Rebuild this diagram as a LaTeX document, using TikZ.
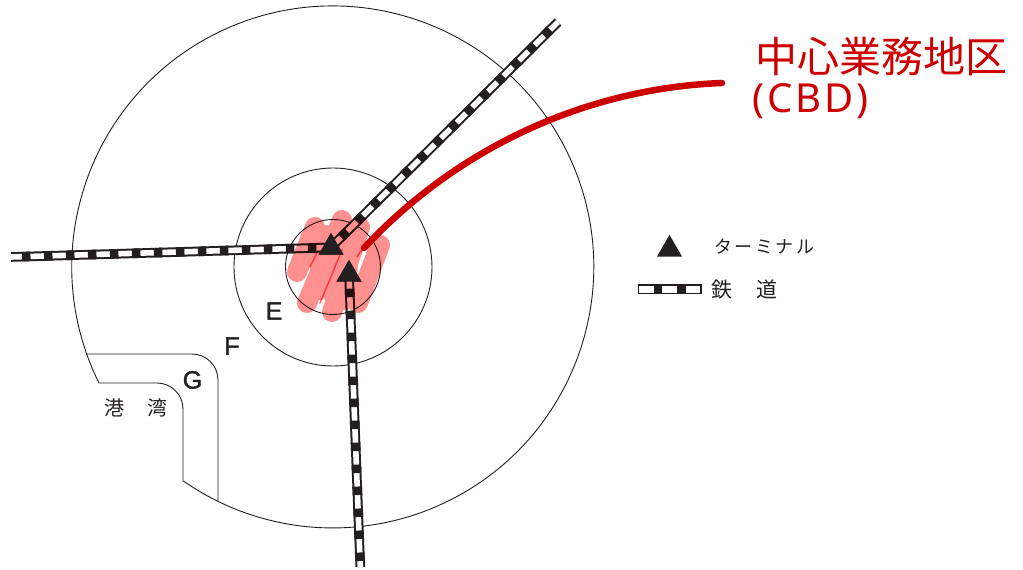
\documentclass[tikz,border=0pt]{standalone}
\usepackage{fontspec}
\setmainfont{Liberation Sans}
\newfontfamily\cjkfont{Noto Sans CJK JP}
\newfontfamily\cbdfont[LetterSpace=7.5]{Noto Sans}
\newfontfamily\katafont[LetterSpace=14]{Noto Sans CJK JP}
\usepackage{tikz}
\usetikzlibrary{positioning,shapes.geometric}
\usepackage{xcolor}
\definecolor{inkdark}{HTML}{231F20}
\definecolor{cbdred}{HTML}{CC0000}
\definecolor{cbdpink}{HTML}{FF9090}
\definecolor{cbdstreak}{HTML}{FF6868}
\tikzset{
	zoneline/.style={inkdark, line width=0.9pt},
	railline/.style={inkdark, line width=2pt, double=white, double distance=5.6pt},
	raildash/.style={inkdark, line width=9.6pt, dash pattern=on 8.5pt off 13.5pt},
	terminal/.style={regular polygon, regular polygon sides=3, fill=inkdark, inner sep=0pt, minimum size=29pt},
	zonelabel/.style={inkdark, font=\addfontfeature{FakeBold=1.5}\fontsize{25}{25}\selectfont},
	maplabel/.style={inkdark, font=\cjkfont\fontsize{20}{20}\selectfont, anchor=west, inner sep=0pt}
}
\begin{document}
\begin{tikzpicture}[x=1pt, y=1pt]
	\useasboundingbox (0,0) rectangle (1023,570);
	\coordinate (city) at (333,303);
	\coordinate (railwest) at (11,313);
	\coordinate (railnorth) at (558,548);
	\coordinate (railsouth) at (360.3,3);
	\coordinate (cbdstart) at (364,322);
	\coordinate (cbdend) at (722,487);
	% zones
	\draw[zoneline] (city) circle (47.5pt);
	\draw[zoneline] (city) circle (99pt);
	\draw[zoneline] (99,187) arc (206.4:-124.9:261pt);
	% harbour
	\draw[zoneline] (99,187) -- (157,187) arc (90:0:26pt) -- (183,88);
	\draw[zoneline] (87,216) -- (192,216) arc (90:0:26pt) -- (218,68);
	% terminals, placed first so the rails can end on them
	\path (331,322.6) node[terminal] (termwest) {};
	\path (349,295.6) node[terminal] (termsouth) {};
	% rails
	\draw[railline] (railwest) -- (termwest.center);
	\draw[raildash, dash phase=11pt] (railwest) -- (termwest.center);
	\draw[railline] (railnorth) -- (termwest.center);
	\draw[raildash, dash phase=11pt] (railnorth) -- (termwest.center);
	\draw[railline] (railsouth) -- (termsouth.center);
	\draw[raildash, dash phase=16pt] (railsouth) -- (termsouth.center);
	% marker strokes over the centre
	\begin{scope}[blend mode=multiply]
		\draw[cbdpink, line width=20pt, line cap=round]
			(315,343) -- (297,298)
			(342,350) -- (307,267)
			(360,343) -- (332,258)
			(380,325) -- (358,267)
			(330,320) -- (345,285)
			(320,325) -- (320,280)
			(350,330) -- (345,270)
			(325,335) -- (335,270);
		\draw[cbdstreak, line width=1.5pt, line cap=round] (320,267) -- (342,320);
		\draw[cbdstreak, line width=1.5pt, line cap=round] (310,303) -- (317,317);
		\draw[cbdstreak, line width=1.5pt, line cap=round] (357,313) -- (363,322);
	\end{scope}
	% terminals again on top
	\path (331,322.6) node[terminal] {};
	\path (349,295.6) node[terminal] {};
	% CBD leader
	\draw[cbdred, line width=6.5pt, line cap=round] (cbdstart) .. controls (460,425) and (590,482) .. (cbdend);
	\node[text=cbdred, font=\cjkfont\fontsize{42}{42}\selectfont, anchor=west, inner sep=0pt] (cbdtitle) at (755,513) {中心業務地区};
	\node[text=cbdred, font=\cbdfont\fontsize{40}{40}\selectfont, anchor=west, inner sep=0pt] (cbdshort) at (752,469) {(CBD)};
	% zone letters
	\node[zonelabel] (zonee) at (274,259) {E};
	\node[zonelabel] (zonef) at (232,224) {F};
	\node[zonelabel] (zoneg) at (192.5,190) {G};
	\node[maplabel] (harbour) at (104,162) {港\hspace{23pt}湾};
	% legend
	\node[terminal] (legendterm) at (669.5,320.6) {};
	\node[maplabel, font=\katafont\fontsize{18}{18}\selectfont] (legendtermtext) at (714,323) {ターミナル};
	\node[draw=inkdark, line width=1.5pt, fill=white, minimum width=62.5pt, minimum height=8.5pt, inner sep=0pt] (legendrail) at (669.5,280.5) {};
	\draw[raildash, dash phase=7.5pt, line width=7pt, dash pattern=on 8.5pt off 15pt] (legendrail.west) -- (legendrail.east);
	\node[maplabel, font=\cjkfont\fontsize{21}{21}\selectfont] (legendrailtext) at (711,280) {鉄\hspace{24pt}道};
\end{tikzpicture}
\end{document}
